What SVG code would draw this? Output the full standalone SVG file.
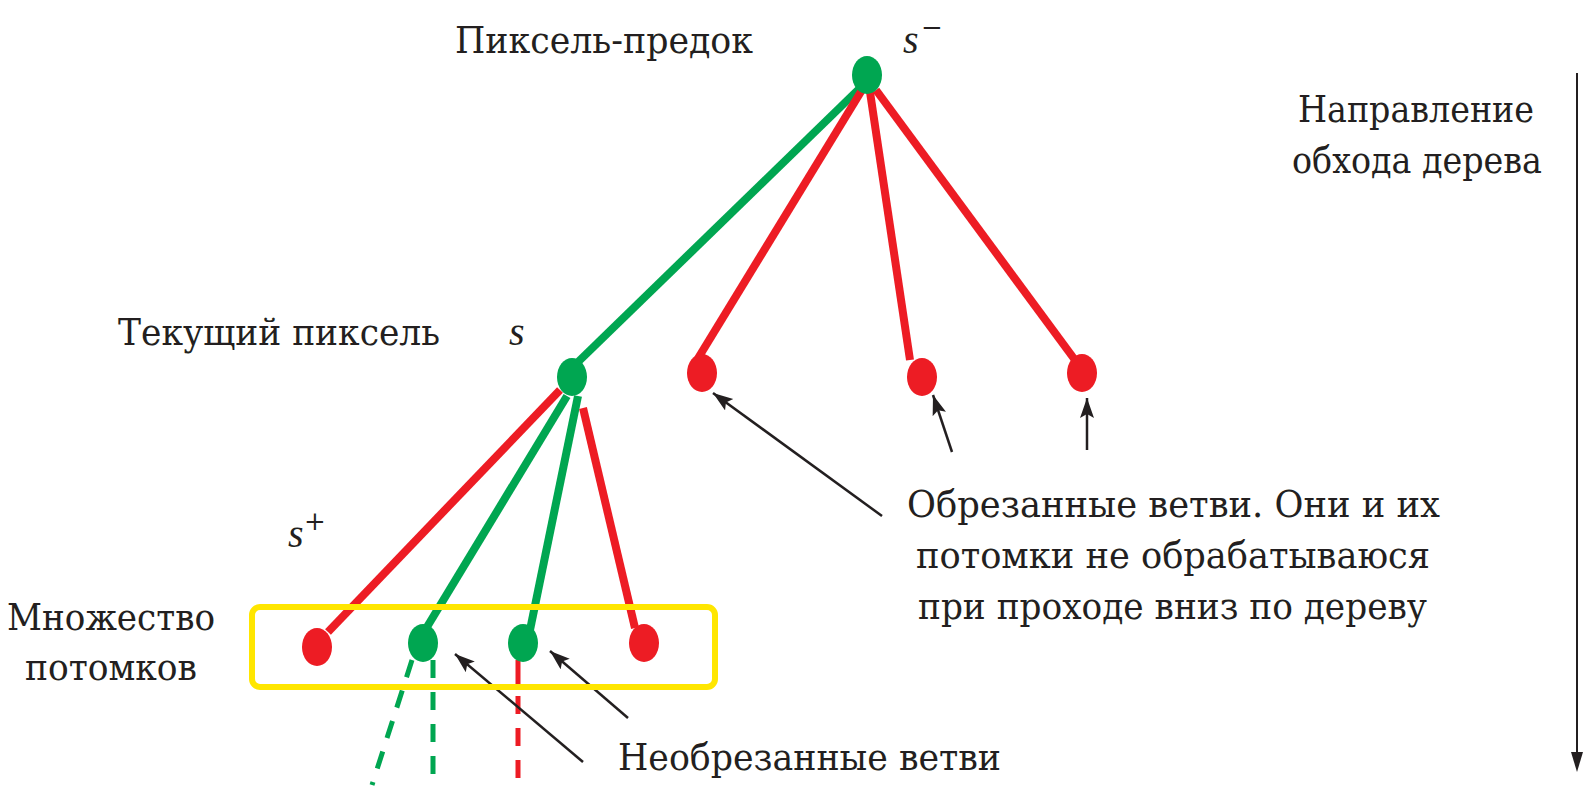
<svg xmlns="http://www.w3.org/2000/svg" width="1590" height="796" viewBox="0 0 1590 796">
<style>
.t{font-family:"DejaVu Serif","Liberation Serif",serif;font-size:37px;fill:#231f20}
.i{font-family:"Liberation Serif","DejaVu Serif",serif;font-style:italic;font-size:40px}
.g{stroke:#00a651;stroke-width:8;fill:none;stroke-linecap:butt}
.r{stroke:#ed1c24;stroke-width:8;fill:none;stroke-linecap:butt}
.gd{stroke:#00a651;stroke-width:5;fill:none;stroke-dasharray:18 14}
.rd{stroke:#ed1c24;stroke-width:5;fill:none;stroke-dasharray:18 14}
.gn{fill:#00a651}
.rn{fill:#ed1c24}
.ar{stroke:#231f20;stroke-width:2.5;fill:none;marker-end:url(#ah)}
</style>
<defs>
<marker id="ah" markerUnits="userSpaceOnUse" markerWidth="22" markerHeight="16" refX="20" refY="7" orient="auto">
<path d="M0,0 L20,7 L0,14 L4,7 z" fill="#231f20"/>
</marker>
</defs>
<rect width="1590" height="796" fill="#fff"/>
<g id="connectors">
<line class="g" x1="860" y1="88" x2="578" y2="362"/>
<line class="r" x1="862" y1="90" x2="697" y2="360"/>
<line class="r" x1="870" y1="92" x2="910" y2="360"/>
<line class="r" x1="876" y1="90" x2="1075" y2="360"/>
<line class="r" x1="560" y1="390" x2="328" y2="632"/>
<line class="g" x1="567" y1="396" x2="427" y2="627"/>
<line class="g" x1="578" y1="396" x2="530" y2="630"/>
<line class="r" x1="583" y1="408" x2="635" y2="628"/>
<path class="gd" d="M412,660 L372,785"/>
<path class="gd" d="M433,660 L433,785"/>
<line x1="518" y1="660" x2="518" y2="690" stroke="#ed1c24" stroke-width="5"/>
<path class="rd" d="M518,696 L518,785"/>
<line class="ar" x1="882" y1="516" x2="713" y2="393"/>
<line class="ar" x1="952" y1="452" x2="933" y2="395"/>
<line class="ar" x1="1087" y1="450" x2="1087" y2="398"/>
<line class="ar" x1="583" y1="762" x2="455" y2="654"/>
<line class="ar" x1="628" y1="718" x2="550" y2="651"/>
<line x1="1577" y1="73" x2="1577" y2="755" stroke="#231f20" stroke-width="2"/>
<path d="M1571,752 L1577,772 L1583,752 z" fill="#231f20"/>
</g>
<g id="set-box">
<rect x="252" y="607" width="463" height="80" rx="8" fill="none" stroke="#ffe600" stroke-width="6"/>
</g>
<g id="node-root"><ellipse class="gn" cx="867" cy="75" rx="15" ry="19"/></g>
<g id="node-s"><ellipse class="gn" cx="572" cy="377" rx="15" ry="19"/></g>
<g id="node-pr1"><ellipse class="rn" cx="702" cy="373" rx="15" ry="19"/></g>
<g id="node-pr2"><ellipse class="rn" cx="922" cy="377" rx="15" ry="19"/></g>
<g id="node-pr3"><ellipse class="rn" cx="1082" cy="373" rx="15" ry="19"/></g>
<g id="node-c1"><ellipse class="rn" cx="317" cy="647" rx="15" ry="19"/></g>
<g id="node-c2"><ellipse class="gn" cx="423" cy="643" rx="15" ry="19"/></g>
<g id="node-c3"><ellipse class="gn" cx="523" cy="643" rx="15" ry="19"/></g>
<g id="node-c4"><ellipse class="rn" cx="644" cy="643" rx="15" ry="19"/></g>
<g id="labels">
<text class="t" x="455" y="53" textLength="298" lengthAdjust="spacingAndGlyphs">Пиксель-предок</text>
<text class="t i" x="903" y="53">s</text>
<text class="t" x="921" y="36" style="font-size:26px">−</text>
<text class="t" x="118" y="345" textLength="322" lengthAdjust="spacingAndGlyphs">Текущий пиксель</text>
<text class="t i" x="509" y="345">s</text>
<text class="t i" x="288" y="547">s</text>
<text class="t" x="304" y="530" style="font-size:26px">+</text>
<text class="t" x="7" y="630" textLength="208" lengthAdjust="spacingAndGlyphs">Множество</text>
<text class="t" x="25" y="680" textLength="172" lengthAdjust="spacingAndGlyphs">потомков</text>
<text class="t" x="1298" y="122" textLength="236" lengthAdjust="spacingAndGlyphs">Направление</text>
<text class="t" x="1292" y="173" textLength="250" lengthAdjust="spacingAndGlyphs">обхода дерева</text>
<text class="t" x="907" y="517" textLength="533" lengthAdjust="spacingAndGlyphs">Обрезанные ветви. Они и их</text>
<text class="t" x="916" y="568" textLength="514" lengthAdjust="spacingAndGlyphs">потомки не обрабатываюся</text>
<text class="t" x="918" y="619" textLength="509" lengthAdjust="spacingAndGlyphs">при проходе вниз по дереву</text>
<text class="t" x="618" y="770" textLength="383" lengthAdjust="spacingAndGlyphs">Необрезанные ветви</text>
</g>
</svg>
